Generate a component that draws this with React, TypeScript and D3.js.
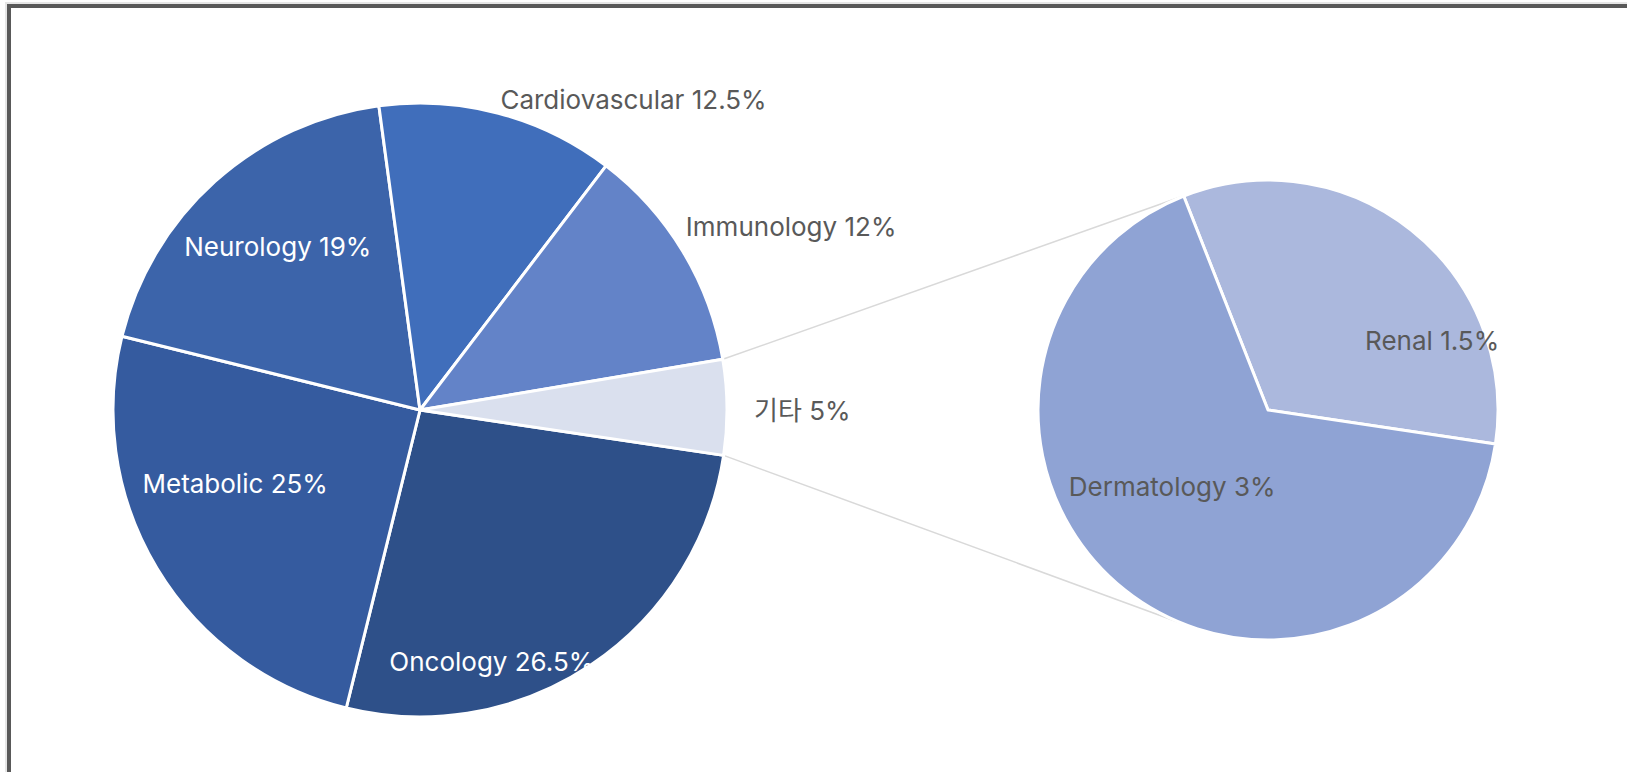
import React from 'react'
import * as d3 from 'd3'

// main pie, clockwise starting just below 기타
const categories = ['Oncology', 'Metabolic', 'Neurology', 'Cardiovascular', 'Immunology', '기타']
const shares = [26.5, 25, 19, 12.5, 12, 5]
// breakdown of 기타
const subCategories = ['Renal', 'Dermatology']
const subShares = [1.5, 3]

const colors = ['#2e5089', '#355b9f', '#3c64aa', '#406ebb', '#6383c8', '#dae0ee']
const subColors = ['#abb8dd', '#8fa3d4']

// label left/baseline, in radius units from the pie centre
const labelPos = [[-0.1, 0.85], [-0.904, 0.27], [-0.768, -0.503], [0.262, -0.982], [0.866, -0.566], [1.088, 0.032]]
const labelWhite = [true, true, true, false, false, false]
const subLabelPos = [[0.422, -0.261], [-0.866, 0.374]]

const W = 1627, H = 772
const deg = Math.PI / 180
const font = "Inter, 'Noto Sans CJK KR', sans-serif"

const App = () => {
  const cx = 420, cy = 410, r = 307
  const sx = 1268, sy = 410, sr = 230

  const pie = d3.pie<number>().sort(null).startAngle(98.5 * deg).endAngle(458.5 * deg)
  const arcs = pie(shares)
  const subPie = d3.pie<number>().sort(null).startAngle(-21.5 * deg).endAngle(338.5 * deg)
  const subArcs = subPie(subShares)
  const arc = d3.arc<d3.PieArcDatum<number>>().innerRadius(0).outerRadius(r)
  const subArc = d3.arc<d3.PieArcDatum<number>>().innerRadius(0).outerRadius(sr)

  // connector lines: from the edges of 기타 slice, tangent to the second pie
  const other = arcs[arcs.length - 1]
  const edge = (a: number) => [cx + r * Math.sin(a), cy - r * Math.cos(a)]
  const tangent = (p: number[], sign: number) => {
    const dx = p[0] - sx, dy = p[1] - sy
    const d = Math.hypot(dx, dy)
    const phi = Math.atan2(dy, dx) + sign * Math.acos(sr / d)
    return [sx + sr * Math.cos(phi), sy + sr * Math.sin(phi)]
  }
  const pTop = edge(other.startAngle)
  const pBot = edge(other.endAngle)
  const tTop = tangent(pTop, 1)
  const tBot = tangent(pBot, -1)

  return <div>
    <style>{`body{margin:0;overflow:hidden}`}</style>
    <svg width={W} height={H} style={{position: 'absolute', left: 0, top: 0}} fontFamily={font}>
      <rect x={0} y={0} width={W} height={H} fill="#fff" />
      <rect x={7.5} y={4.5} width={W} height={H} fill="none" stroke="#e6e6e6" strokeWidth={5} />
      <rect x={9} y={6} width={W} height={H} fill="none" stroke="#595959" strokeWidth={4} />

      <line x1={pTop[0]} y1={pTop[1]} x2={tTop[0]} y2={tTop[1]} stroke="#d9d9d9" strokeWidth={1.5} />
      <line x1={pBot[0]} y1={pBot[1]} x2={tBot[0]} y2={tBot[1]} stroke="#d9d9d9" strokeWidth={1.5} />

      <g transform={`translate(${cx},${cy})`}>
        {arcs.map((a, i) => <path key={i} d={arc(a) || ''} fill={colors[i]} stroke="#fff" strokeWidth={3} strokeLinejoin="round" />)}
        {arcs.map((a, i) => <text key={i} x={labelPos[i][0] * r} y={labelPos[i][1] * r}
          fontSize={26} fill={labelWhite[i] ? '#fff' : '#595959'}>{`${categories[i]} ${shares[i]}%`}</text>)}
      </g>

      <g transform={`translate(${sx},${sy})`}>
        {subArcs.map((a, i) => <path key={i} d={subArc(a) || ''} fill={subColors[i]} stroke="#fff" strokeWidth={3} strokeLinejoin="round" />)}
        {subArcs.map((a, i) => <text key={i} x={subLabelPos[i][0] * sr} y={subLabelPos[i][1] * sr}
          fontSize={26} fill="#595959">{`${subCategories[i]} ${subShares[i]}%`}</text>)}
      </g>
    </svg>
  </div>
}

export default App
